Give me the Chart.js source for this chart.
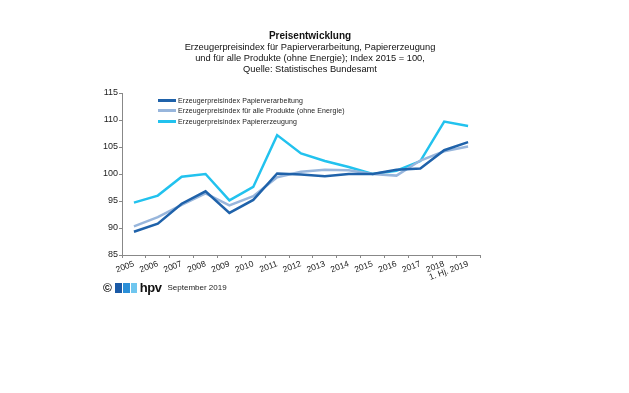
<!DOCTYPE html>
<html>
<head>
<meta charset="utf-8">
<script src="https://cdn.jsdelivr.net/npm/chart.js@4.4.1/dist/chart.umd.min.js"></script>
<style>
  body { margin: 0; background: #fff; font-family: "Liberation Sans", Arial, sans-serif; }
  #wrap { position: relative; width: 629px; height: 393px; }
  #chart { position: absolute; left: 0; top: 0; }
  .title { position: absolute; left: 160px; width: 300px; text-align: center; color: #111; font-size: 9.3px; line-height: 11px; top: 30px; }
  .title b { font-size: 10px; }
  #legend { position: absolute; left: 158px; top: 95px; font-size: 7px; color: #222; letter-spacing: 0.1px; }
  #legend div { height: 10.5px; display: flex; align-items: center; }
  #legend span.sw { display: inline-block; width: 18px; height: 3px; margin-right: 2px; }
  #foot { position: absolute; left: 103px; top: 280px; display: flex; align-items: center; font-size: 8px; color: #222; }
</style>
</head>
<body>
<div id="wrap">
  <canvas id="chart" width="629" height="393"></canvas>
  <div class="title"><b>Preisentwicklung</b><br>Erzeugerpreisindex für Papierverarbeitung, Papiererzeugung<br>und für alle Produkte (ohne Energie); Index 2015 = 100,<br>Quelle: Statistisches Bundesamt</div>
  <div id="legend"></div>
  <div id="foot">
    <span style="font-size:12px;font-weight:bold;color:#111;">©</span>
    <span style="display:inline-block;width:22px;height:10px;margin:0 3px;background:linear-gradient(90deg,#1b5aa6 0 30%,#fff 30% 36%,#2a8fd8 36% 66%,#fff 66% 72%,#6fc6ef 72%);"></span>
    <span style="font-size:13px;font-weight:bold;color:#111;margin-right:6px;letter-spacing:-0.5px;">hpv</span>
    <span>September 2019</span>
  </div>
</div>
<script>
const labels = ["2005","2006","2007","2008","2009","2010","2011","2012","2013","2014","2015","2016","2017","2018","1. Hj. 2019"];
const papierverarbeitung = [89.3, 90.8, 94.5, 96.8, 92.8, 95.2, 100.1, 99.9, 99.6, 100.0, 100.0, 100.8, 101.0, 104.4, 105.9];
const alleProdukte = [90.3, 92.0, 94.3, 96.4, 94.2, 95.9, 99.4, 100.4, 100.8, 100.7, 100.0, 99.7, 102.5, 104.2, 105.1];
const papiererzeugung = [94.7, 96.0, 99.5, 100.0, 95.1, 97.6, 107.2, 103.8, 102.4, 101.3, 100.0, 100.6, 102.4, 109.7, 108.9];

const datasets = [
    { label: "Erzeugerpreisindex Papierverarbeitung", data: papierverarbeitung, borderColor: "#1f62aa" },
    { label: "Erzeugerpreisindex für alle Produkte (ohne Energie)", data: alleProdukte, borderColor: "#98b6dc" },
    { label: "Erzeugerpreisindex Papiererzeugung", data: papiererzeugung, borderColor: "#22c2ee" },
];

// eigene Legende im Diagramm
const legendEl = document.getElementById("legend");
datasets.forEach((ds) => {
    const row = document.createElement("div");
    row.innerHTML = '<span class="sw" style="background:' + ds.borderColor + '"></span>' + ds.label;
    legendEl.appendChild(row);
});

const ctx = document.getElementById("chart").getContext("2d");
new Chart(ctx, {
    type: "line",
    data: {
        labels: labels,
        datasets: datasets.map((ds) => ({
            ...ds,
            borderWidth: 2.5,
            pointRadius: 0,
            tension: 0,
            fill: false,
        })),
    },
    options: {
        responsive: false,
        animation: false,
        layout: { padding: { left: 92, top: 93, right: 149, bottom: 108 } },
        plugins: { legend: { display: false }, tooltip: { enabled: false } },
        scales: {
            x: {
                offset: true,
                afterFit: (s) => { s.height = 30; },
                grid: { display: true, drawOnChartArea: false, offset: true, tickLength: 3, color: "#888" },
                border: { color: "#888" },
                ticks: {
                    maxRotation: 20, minRotation: 20, autoSkip: false,
                    color: "#222", font: { family: "Liberation Sans", size: 8.5 }, padding: 1,
                },
            },
            y: {
                min: 85, max: 115,
                afterFit: (s) => { s.width = 30; },
                grid: { display: true, drawOnChartArea: false, tickLength: 3, color: "#888" },
                border: { color: "#888" },
                ticks: { stepSize: 5, color: "#222", font: { family: "Liberation Sans", size: 9 }, padding: 1 },
            },
        },
    },
});
</script>
</body>
</html>
